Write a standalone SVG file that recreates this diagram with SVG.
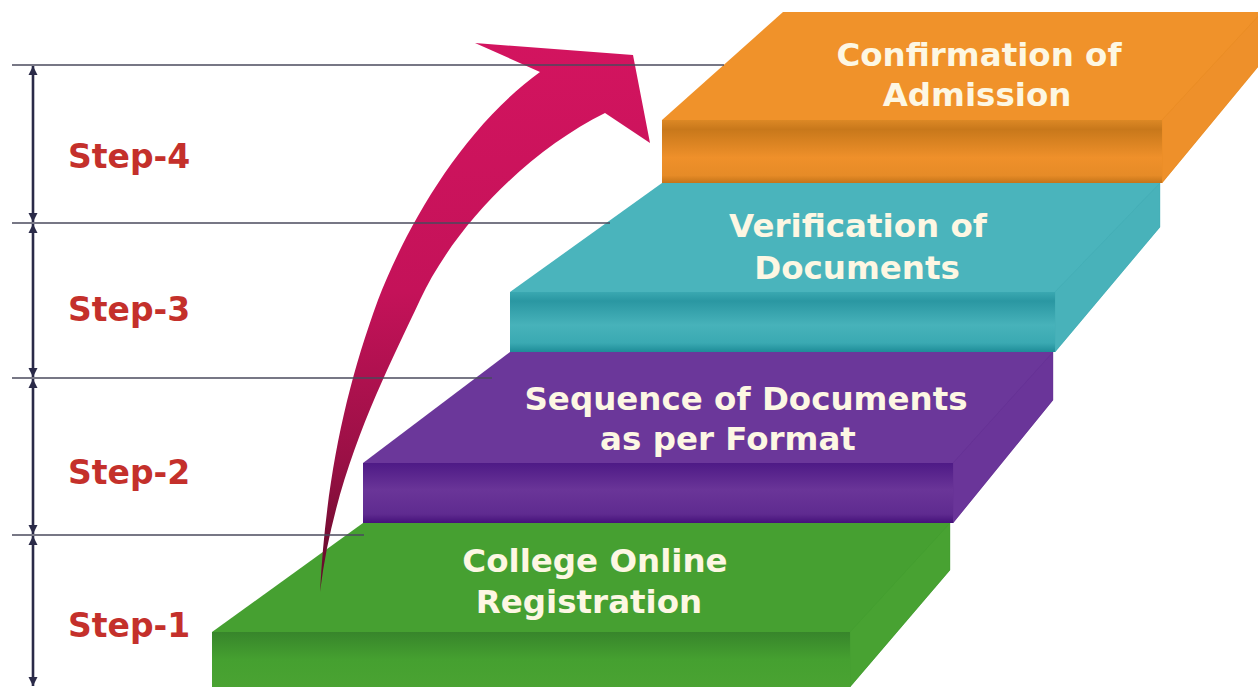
<svg xmlns="http://www.w3.org/2000/svg" width="1258" height="687" viewBox="0 0 1258 687">
<style>
.lbl{font-family:"DejaVu Sans","Liberation Sans",sans-serif;font-weight:bold;font-size:32.5px;fill:#fdf7e3;text-anchor:middle}
.step{font-family:"DejaVu Sans","Liberation Sans",sans-serif;font-weight:bold;font-size:33px;fill:#c4302b}
.guide{stroke:#4a4a5c;stroke-width:1.6;fill:none}
.dim{stroke:#2a2a48;stroke-width:2.6;fill:none;marker-start:url(#ah);marker-end:url(#ah)}
.side{stroke-width:0.6;stroke-opacity:0.6}
</style>
<defs>
<marker id="ah" viewBox="0 0 10 10" refX="10" refY="5" markerUnits="userSpaceOnUse" markerWidth="9" markerHeight="10" orient="auto-start-reverse">
<path d="M0,0 L10,5 L0,10 z" fill="#2a2a48"/>
</marker>
<linearGradient id="gF" x1="0" y1="0" x2="0" y2="1"><stop offset="0" stop-color="#37852b"/><stop offset="0.5" stop-color="#45a030"/><stop offset="1" stop-color="#4aa332"/></linearGradient>
<linearGradient id="pF" x1="0" y1="0" x2="0" y2="1"><stop offset="0" stop-color="#4e1a86"/><stop offset="0.45" stop-color="#6a3598"/><stop offset="0.85" stop-color="#5f2b90"/><stop offset="1" stop-color="#45117a"/></linearGradient>
<linearGradient id="tF" x1="0" y1="0" x2="0" y2="1"><stop offset="0" stop-color="#3aa8b1"/><stop offset="0.15" stop-color="#2a97a2"/><stop offset="0.55" stop-color="#47b2ba"/><stop offset="0.85" stop-color="#3aa9b2"/><stop offset="1" stop-color="#1e8c98"/></linearGradient>
<linearGradient id="oF" x1="0" y1="0" x2="0" y2="1"><stop offset="0" stop-color="#dc8825"/><stop offset="0.15" stop-color="#c8781b"/><stop offset="0.6" stop-color="#ef902a"/><stop offset="0.88" stop-color="#e68b27"/><stop offset="1" stop-color="#c47419"/></linearGradient>
<linearGradient id="arr" gradientUnits="userSpaceOnUse" x1="0" y1="40" x2="0" y2="600">
<stop offset="0" stop-color="#d3145f"/><stop offset="0.45" stop-color="#c41259"/><stop offset="0.75" stop-color="#9a1045"/><stop offset="1" stop-color="#5a0a25"/></linearGradient>
</defs>
<rect width="1258" height="687" fill="#ffffff"/>

<g id="step1">
<polygon points="212,632 363,523 950,523 950,570 850,687 212,687" fill="#46a031"/>
<polygon class="side" points="850,632 950,523 950,570 850,687" fill="#48a232" stroke="#3f9a2d"/>
<rect x="212" y="632" width="638" height="55" fill="url(#gF)"/>
<text class="lbl" x="595" y="572">College Online</text>
<text class="lbl" x="589" y="613">Registration</text>
</g>

<g id="step2">
<polygon points="363,463 510,352 1053,352 1053,400 953,523 363,523" fill="#6b379a"/>
<polygon class="side" points="953,463 1053,352 1053,400 953,523" fill="#6a3599" stroke="#5f2d8f"/>
<rect x="363" y="463" width="590" height="60" fill="url(#pF)"/>
<text class="lbl" x="746" y="410">Sequence of Documents</text>
<text class="lbl" x="728" y="450">as per Format</text>
</g>

<g id="step3">
<polygon points="510,292 662,183 1160,183 1160,227 1055,352 510,352" fill="#4ab4bc"/>
<polygon class="side" points="1055,292 1160,183 1160,227 1055,352" fill="#48b2ba" stroke="#3ea7b0"/>
<rect x="510" y="292" width="545" height="60" fill="url(#tF)"/>
<text class="lbl" x="858" y="237">Verification of</text>
<text class="lbl" x="857" y="279">Documents</text>
</g>

<g id="step4">
<polygon points="662,120 783,12 1262,12 1262,62 1162,183 662,183" fill="#f0922a"/>
<polygon class="side" points="1162,120 1262,12 1262,62 1162,183" fill="#ee902a" stroke="#e0861f"/>
<rect x="662" y="120" width="500" height="63" fill="url(#oF)"/>
<text class="lbl" x="979" y="66">Confirmation of</text>
<text class="lbl" x="977" y="106">Admission</text>
</g>

<g id="arrow">
<path d="M320,592 C326,480 345,390 378,300 C405,230 460,130 540,72 L475,43 L633,55 L650,143 L605,113 C530,150 455,225 420,300 C385,375 335,470 320,592 Z" fill="url(#arr)"/>
</g>

<g id="connectors">
<line class="guide" x1="12" y1="65" x2="724" y2="65"/>
<line class="guide" x1="12" y1="223" x2="610" y2="223"/>
<line class="guide" x1="12" y1="378" x2="492" y2="378"/>
<line class="guide" x1="12" y1="535" x2="364" y2="535"/>
<line class="dim" x1="33" y1="66" x2="33" y2="222"/>
<line class="dim" x1="33" y1="224" x2="33" y2="377"/>
<line class="dim" x1="33" y1="379" x2="33" y2="534"/>
<line class="dim" x1="33" y1="536" x2="33" y2="686"/>
</g>

<g id="labels">
<text class="step" x="68" y="168">Step-4</text>
<text class="step" x="68" y="321">Step-3</text>
<text class="step" x="68" y="484">Step-2</text>
<text class="step" x="68" y="637">Step-1</text>
</g>
</svg>
